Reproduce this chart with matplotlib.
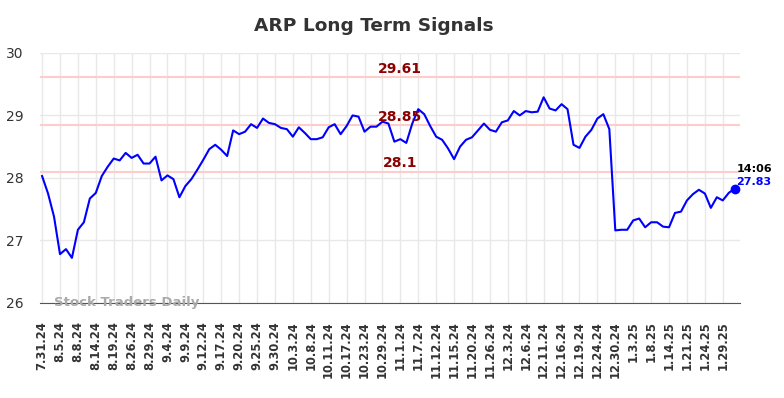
import matplotlib
matplotlib.use("Agg")
import matplotlib.pyplot as plt

# tick labels, one every 3 points
tick_labels = ["7.31.24", "8.5.24", "8.8.24", "8.14.24", "8.19.24", "8.26.24", "8.29.24",
               "9.4.24", "9.9.24", "9.12.24", "9.17.24", "9.20.24", "9.25.24", "9.30.24",
               "10.3.24", "10.8.24", "10.11.24", "10.17.24", "10.23.24", "10.29.24",
               "11.1.24", "11.7.24", "11.12.24", "11.15.24", "11.20.24", "11.26.24",
               "12.3.24", "12.6.24", "12.11.24", "12.16.24", "12.19.24", "12.24.24",
               "12.30.24", "1.3.25", "1.8.25", "1.14.25", "1.21.25", "1.24.25", "1.29.25"]

prices = [28.03, 27.75, 27.38, 26.78, 26.86, 26.72, 27.17, 27.29, 27.67, 27.76,
          28.03, 28.18, 28.31, 28.28, 28.40, 28.32, 28.37, 28.23, 28.23, 28.34,
          27.96, 28.04, 27.98, 27.69, 27.87, 27.98, 28.13, 28.29, 28.46, 28.53,
          28.45, 28.35, 28.76, 28.70, 28.74, 28.86, 28.80, 28.95, 28.88, 28.86,
          28.80, 28.78, 28.66, 28.81, 28.72, 28.62, 28.62, 28.65, 28.81, 28.86,
          28.70, 28.83, 29.00, 28.98, 28.74, 28.82, 28.82, 28.90, 28.87, 28.58,
          28.62, 28.56, 28.87, 29.10, 29.02, 28.83, 28.66, 28.61, 28.47, 28.30,
          28.50, 28.61, 28.65, 28.76, 28.87, 28.77, 28.74, 28.89, 28.92, 29.07,
          29.00, 29.07, 29.05, 29.06, 29.29, 29.11, 29.08, 29.18, 29.10, 28.53,
          28.48, 28.66, 28.77, 28.95, 29.02, 28.78, 27.16, 27.17, 27.17, 27.32,
          27.35, 27.21, 27.29, 27.29, 27.22, 27.21, 27.44, 27.46, 27.64, 27.74,
          27.81, 27.75, 27.52, 27.69, 27.64, 27.76, 27.83]

levels = [29.61, 28.85, 28.1]
level_labels = ["29.61", "28.85", "28.1"]
last_time = "14:06"

fig = plt.figure(figsize=(7.84, 3.98), dpi=100)
ax = fig.add_axes([0.051, 0.239, 0.893, 0.628])

x = list(range(len(prices)))
for lv, lab in zip(levels, level_labels):
    ax.axhline(lv, color="#ffcccc", lw=1.5, zorder=1)
    ax.text(60, lv + 0.02, lab, color="#8b0000", fontsize=10, fontweight="bold",
            ha="center", va="bottom", zorder=3)

ax.plot(x, prices, color="blue", lw=1.5, zorder=2)
ax.plot(x[-1], prices[-1], "o", color="blue", ms=6, zorder=4)
ax.text(x[-1] + 0.3, prices[-1] + 0.24, last_time, fontsize=8, fontweight="bold",
        color="black", ha="left", va="bottom")
ax.text(x[-1] + 0.3, prices[-1] + 0.03, f"{prices[-1]:.2f}", fontsize=8, fontweight="bold",
        color="blue", ha="left", va="bottom")

ax.text(2, 26.0, "Stock Traders Daily", fontsize=9.5, fontweight="bold", color="#aaaaaa",
        ha="left", va="center", zorder=3)

ax.set_xlim(-0.35, 116.9)
ax.set_ylim(26, 30)
ax.set_yticks([26, 27, 28, 29, 30])
ax.set_xticks(x[::3])
ax.set_xticklabels(tick_labels, rotation=90, fontsize=8.3, fontweight="bold")
ax.tick_params(axis="both", length=0, colors="#333333")
ax.tick_params(axis="x", pad=13)
ax.tick_params(axis="y", labelsize=10, pad=12)
ax.grid(True, color="#e8e8e8", lw=1)
ax.set_axisbelow(True)
for s in ["top", "right", "left"]:
    ax.spines[s].set_visible(False)
ax.spines["bottom"].set_color("#555555")

fig.text(0.477, 0.935, "ARP Long Term Signals", fontsize=13.3, fontweight="bold",
         color="#333333", ha="center", va="center")
fig.savefig("out.png", dpi=100)
